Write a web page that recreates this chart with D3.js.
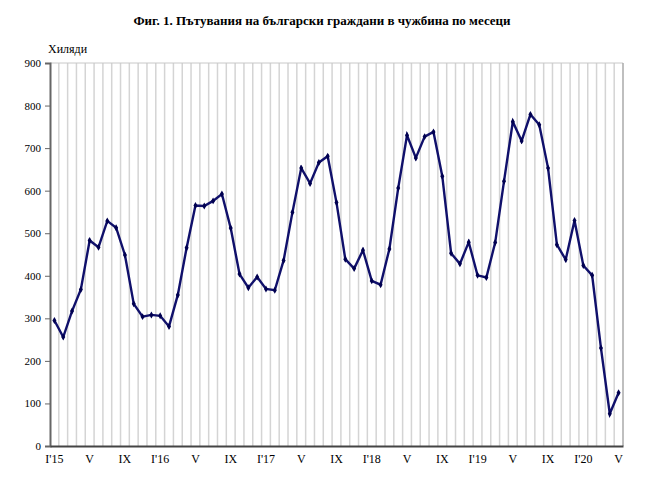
<!DOCTYPE html>
<html>
<head>
<meta charset="utf-8">
<script src="https://cdn.jsdelivr.net/npm/d3@7"></script>
<style>
  body { margin: 0; background: #fff; }
  svg { display: block; font-family: "Liberation Serif", "Times New Roman", serif; }
</style>
</head>
<body>
<svg id="chart" width="645" height="489"></svg>
<script>
// monthly trips abroad, thousands, Jan 2015 - May 2020
const values = [
  295, 256, 317, 368, 483, 467, 529, 513, 449, 334, 304, 308,
  306, 281, 355, 466, 565, 564, 576, 592, 512, 404, 372, 397,
  369, 366, 436, 549, 653, 617, 666, 681, 572, 439, 417, 460,
  388, 379, 463, 606, 730, 677, 727, 738, 634, 453, 428, 479,
  401, 396, 478, 622, 762, 717, 779, 755, 653, 473, 438, 530,
  424, 401, 230, 76, 125
];
const yTicks = [0, 100, 200, 300, 400, 500, 600, 700, 800, 900];
// label shown under every 4th month
const monthLabels = ["I'15", "V", "IX", "I'16", "V", "IX", "I'17", "V", "IX",
  "I'18", "V", "IX", "I'19", "V", "IX", "I'20", "V"];

const svg = d3.select("#chart");
const margin = { top: 63, left: 50, right: 22, bottom: 43 };
const width = 645, height = 489;
const innerW = width - margin.left - margin.right;
const innerH = height - margin.top - margin.bottom;

const idx = d3.range(values.length);
const x = d3.scaleBand().domain(idx).range([0, innerW]);
const y = d3.scaleLinear().domain([0, 900]).range([innerH, 0]);

svg.append("text")
  .attr("x", 322)
  .attr("y", 25)
  .attr("text-anchor", "middle")
  .style("font-size", "13px")
  .style("font-weight", "bold")
  .text("Фиг. 1. Пътувания на български граждани в чужбина по месеци");

svg.append("text")
  .attr("x", 48)
  .attr("y", 53)
  .style("font-size", "12px")
  .text("Хиляди");

const g = svg.append("g").attr("transform", `translate(${margin.left},${margin.top})`);

// vertical grid at category boundaries
g.selectAll("line.grid")
  .data(idx.slice(1))
  .join("line")
  .attr("class", "grid")
  .attr("x1", d => x(d))
  .attr("x2", d => x(d))
  .attr("y1", 0)
  .attr("y2", innerH)
  .attr("stroke", "#d4d4d4")
  .attr("stroke-width", 1.5);

// plot frame top/right
g.append("line")
  .attr("x1", 0).attr("x2", innerW).attr("y1", 0).attr("y2", 0)
  .attr("stroke", "#c8c8c8").attr("stroke-width", 1);
g.append("line")
  .attr("x1", innerW).attr("x2", innerW).attr("y1", 0).attr("y2", innerH)
  .attr("stroke", "#aaa").attr("stroke-width", 1.5);

const yAxis = g.append("g")
  .call(d3.axisLeft(y).tickValues(yTicks).tickSize(5).tickPadding(4));
yAxis.select(".domain").attr("stroke", "#666").attr("stroke-width", 2);
yAxis.selectAll(".tick line").attr("stroke", "#666");
yAxis.selectAll("text")
  .style("font-family", "Liberation Serif, serif")
  .style("font-size", "11px")
  .attr("fill", "#000");

const xAxis = g.append("g")
  .attr("transform", `translate(0,${innerH})`)
  .call(d3.axisBottom(x)
    .tickValues(idx.filter(i => i % 4 === 0))
    .tickFormat(i => monthLabels[i / 4])
    .tickSize(0)
    .tickPadding(8));
xAxis.select(".domain").attr("stroke", "#444").attr("stroke-width", 2);
xAxis.selectAll("text")
  .style("font-family", "Liberation Serif, serif")
  .style("font-size", "12px")
  .attr("fill", "#000");

const line = d3.line()
  .x((d, i) => x(i) + x.bandwidth() / 2)
  .y(d => y(d));

g.append("path")
  .datum(values)
  .attr("d", line)
  .attr("fill", "none")
  .attr("stroke", "#10106b")
  .attr("stroke-width", 2.4)
  .attr("stroke-linejoin", "miter");

g.selectAll("path.marker")
  .data(values)
  .join("path")
  .attr("class", "marker")
  .attr("transform", (d, i) => `translate(${x(i) + x.bandwidth() / 2},${y(d)})`)
  .attr("d", d3.symbol(d3.symbolDiamond, 14))
  .attr("fill", "#000050");
</script>
</body>
</html>
